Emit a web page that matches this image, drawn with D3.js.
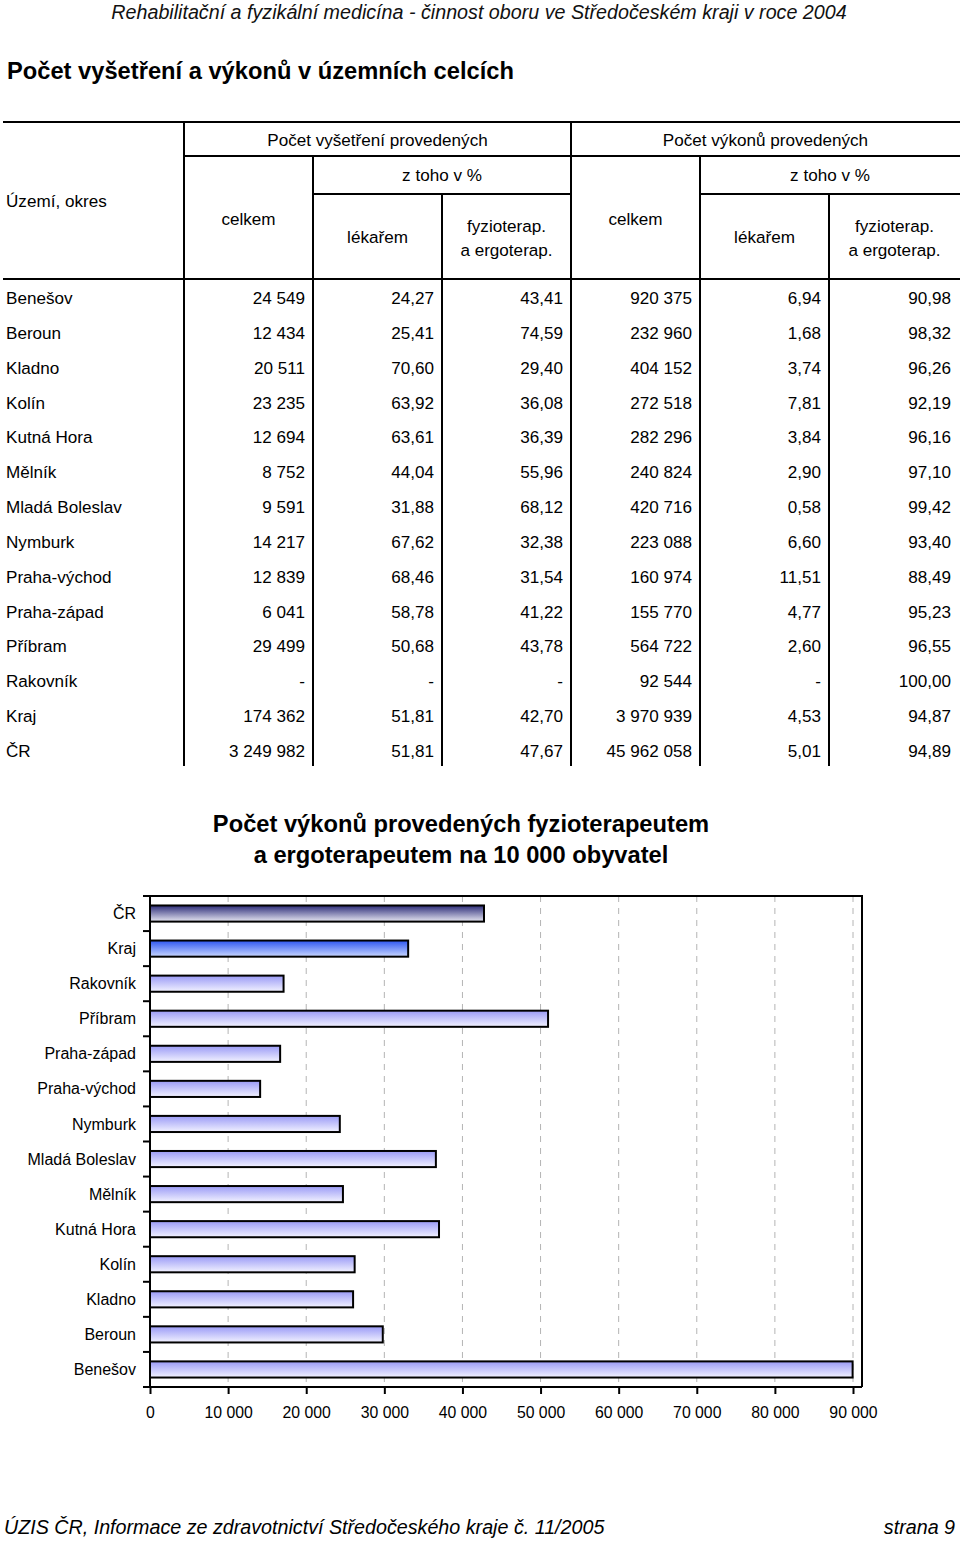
<!DOCTYPE html>
<html><head><meta charset="utf-8">
<script src="https://cdn.jsdelivr.net/npm/d3@7"></script>
<style>
html,body{margin:0;padding:0;background:#fff;}
svg text{font-family:"Liberation Sans",Arial,sans-serif;fill:#000;}
</style></head>
<body>
<svg id="page" width="960" height="1541"></svg>
<script>
// ---------- DATA ----------
const districts = ["Benešov","Beroun","Kladno","Kolín","Kutná Hora","Mělník","Mladá Boleslav","Nymburk","Praha-východ","Praha-západ","Příbram","Rakovník","Kraj","ČR"];
const examTotal = [24549,12434,20511,23235,12694,8752,9591,14217,12839,6041,29499,null,174362,3249982];
const examDoctorPct = [24.27,25.41,70.60,63.92,63.61,44.04,31.88,67.62,68.46,58.78,50.68,null,51.81,51.81];
const examPhysioPct = [43.41,74.59,29.40,36.08,36.39,55.96,68.12,32.38,31.54,41.22,43.78,null,42.70,47.67];
const procTotal = [920375,232960,404152,272518,282296,240824,420716,223088,160974,155770,564722,92544,3970939,45962058];
const procDoctorPct = [6.94,1.68,3.74,7.81,3.84,2.90,0.58,6.60,11.51,4.77,2.60,null,4.53,5.01];
const procPhysioPct = [90.98,98.32,96.26,92.19,96.16,97.10,99.42,93.40,88.49,95.23,96.55,100.00,94.87,94.89];

const chartCategories = ["ČR","Kraj","Rakovník","Příbram","Praha-západ","Praha-východ","Nymburk","Mladá Boleslav","Mělník","Kutná Hora","Kolín","Kladno","Beroun","Benešov"];
const chartValues = [42760,33050,17100,50960,16660,14100,24300,36600,24700,37000,26200,26000,29800,89950];
const xTickValues = [0,10000,20000,30000,40000,50000,60000,70000,80000,90000];

const pageHeader = "Rehabilitační a fyzikální medicína - činnost oboru ve Středočeském kraji v roce 2004";
const tableTitle = "Počet vyšetření a výkonů v územních celcích";
const chartTitle = ["Počet výkonů provedených fyzioterapeutem","a ergoterapeutem na 10 000 obyvatel"];
const footerLeft = "ÚZIS ČR, Informace ze zdravotnictví Středočeského kraje č. 11/2005";
const footerRight = "strana 9";

// ---------- FORMAT ----------
const loc = d3.formatLocale({decimal:",", thousands:" ", grouping:[3], currency:["",""]});
const fInt = loc.format(",d");
const fPct = loc.format(",.2f");
const dash = f => v => v == null ? "-" : f(v);

const svg = d3.select("#page");

// ---------- HEADERS ----------
svg.append("text").attr("x",479).attr("y",19).attr("text-anchor","middle")
  .attr("font-style","italic").attr("font-size",19.7).style("fill","#111").text(pageHeader);
svg.append("text").attr("x",7).attr("y",79).attr("font-weight","bold").attr("font-size",23.7).text(tableTitle);

// ---------- TABLE ----------
const lineG = svg.append("g").attr("stroke","#000").attr("stroke-width",2).attr("fill","none");
const hl = (x1,x2,yy) => lineG.append("line").attr("x1",x1).attr("x2",x2).attr("y1",yy).attr("y2",yy);
const vl = (xx,y1,y2) => lineG.append("line").attr("x1",xx).attr("x2",xx).attr("y1",y1).attr("y2",y2);
hl(3,960,122); hl(184,960,156); hl(313,571,194); hl(700,960,194); hl(3,960,279);
vl(184,122,766); vl(571,122,766);
vl(313,156,766); vl(700,156,766);
vl(442,194,766); vl(829,194,766);

const hdr = svg.append("g").attr("font-size",17.1);
const htxt = (xx,yy,t,anchor) => hdr.append("text").attr("x",xx).attr("y",yy).attr("text-anchor",anchor||"middle").text(t);
htxt(6,207,"Území, okres","start");
htxt((184+571)/2,146,"Počet vyšetření provedených");
htxt((571+960)/2,146,"Počet výkonů provedených");
htxt((313+571)/2,181,"z toho v %");
htxt((700+960)/2,181,"z toho v %");
htxt((184+313)/2,225,"celkem");
htxt((571+700)/2,225,"celkem");
htxt((313+442)/2,243,"lékařem");
htxt((700+829)/2,243,"lékařem");
htxt((442+571)/2,232,"fyzioterap.");
htxt((442+571)/2,256,"a ergoterap.");
htxt((829+960)/2,232,"fyzioterap.");
htxt((829+960)/2,256,"a ergoterap.");

const rowY = d3.scalePoint().domain(districts).range([304,757]);
const cols = [
  {x:305, vals:examTotal, f:dash(fInt)},
  {x:434, vals:examDoctorPct, f:dash(fPct)},
  {x:563, vals:examPhysioPct, f:dash(fPct)},
  {x:692, vals:procTotal, f:dash(fInt)},
  {x:821, vals:procDoctorPct, f:dash(fPct)},
  {x:951, vals:procPhysioPct, f:dash(fPct)}
];
const body = svg.append("g").attr("font-size",17.1);
districts.forEach((d,i)=>{
  body.append("text").attr("x",6).attr("y",rowY(d)).text(d);
  cols.forEach(c=>{
    body.append("text").attr("x",c.x).attr("y",rowY(d)).attr("text-anchor","end").text(c.f(c.vals[i]));
  });
});

// ---------- CHART ----------
svg.append("g").attr("font-weight","bold").attr("font-size",23.7)
  .selectAll("text").data(chartTitle).join("text")
  .attr("x",461).attr("y",(d,i)=>832+i*31).attr("text-anchor","middle").text(d=>d);

const pLeft=150, pRight=862, pTop=896, pBottom=1387;
const x = d3.scaleLinear().domain([0,90000]).range([pLeft,853]);
const y = d3.scaleBand().domain(chartCategories).range([pTop,pBottom]).paddingInner(0.54).paddingOuter(0.27);

const defs = svg.append("defs");
const grads = {
  dark:[["0%","#2c2c78"],["100%","#e6e6f2"]],
  blue:[["0%","#2d56f0"],["100%","#c8d6ff"]],
  lav:[["0%","#9a9af6"],["100%","#f2f2ff"]]
};
Object.entries(grads).forEach(([k,stops])=>{
  const g = defs.append("linearGradient").attr("id","g-"+k).attr("x1",0).attr("x2",0).attr("y1",0).attr("y2",1);
  stops.forEach(s=>g.append("stop").attr("offset",s[0]).attr("stop-color",s[1]));
});
const gradFor = c => c==="ČR" ? "dark" : (c==="Kraj" ? "blue" : "lav");

// grid
svg.append("g").selectAll("line").data(xTickValues.slice(1)).join("line")
  .attr("x1",d=>x(d)).attr("x2",d=>x(d)).attr("y1",pTop).attr("y2",pBottom)
  .attr("stroke","#b4b4b4").attr("stroke-width",1).attr("stroke-dasharray","6,6");

// bars
svg.append("g").selectAll("rect").data(chartCategories).join("rect")
  .attr("x",x(0)).attr("y",d=>y(d))
  .attr("width",(d,i)=>x(chartValues[i])-x(0)).attr("height",y.bandwidth())
  .attr("fill",d=>`url(#g-${gradFor(d)})`).attr("stroke","#000").attr("stroke-width",2);

// frame top/right
svg.append("path").attr("d",`M${pLeft},${pTop}H${pRight}V${pBottom}`).attr("fill","none").attr("stroke","#000").attr("stroke-width",2);

// x axis
const xAxis = d3.axisBottom(x).tickValues(xTickValues).tickSize(7).tickPadding(13).tickFormat(fInt);
const gx = svg.append("g").attr("transform",`translate(0,${pBottom})`).call(xAxis);
gx.select(".domain").attr("d",`M${pLeft},0H${pRight}`).attr("stroke-width",2);
gx.selectAll(".tick line").attr("stroke-width",2);
gx.selectAll("text").attr("font-size",15.8).attr("font-family",null);

// y axis with boundary ticks
const gy = svg.append("g").attr("transform",`translate(${pLeft},0)`);
gy.append("line").attr("x1",0).attr("x2",0).attr("y1",pTop).attr("y2",pBottom).attr("stroke","#000").attr("stroke-width",2);
const boundaries = d3.range(chartCategories.length+1).map(i=>pTop+i*(pBottom-pTop)/chartCategories.length);
gy.selectAll("line.bt").data(boundaries).join("line").attr("class","bt")
  .attr("x1",-7).attr("x2",0).attr("y1",d=>d).attr("y2",d=>d).attr("stroke","#000").attr("stroke-width",2);
gy.selectAll("text").data(chartCategories).join("text")
  .attr("x",-14).attr("y",d=>y(d)+y.bandwidth()/2).attr("dy","0.35em")
  .attr("text-anchor","end").attr("font-size",16).text(d=>d);

// ---------- FOOTER ----------
svg.append("text").attr("x",4).attr("y",1534).attr("font-style","italic").attr("font-size",19.7).text(footerLeft);
svg.append("text").attr("x",955).attr("y",1534).attr("text-anchor","end").attr("font-style","italic").attr("font-size",19.7).text(footerRight);
</script>
</body></html>
